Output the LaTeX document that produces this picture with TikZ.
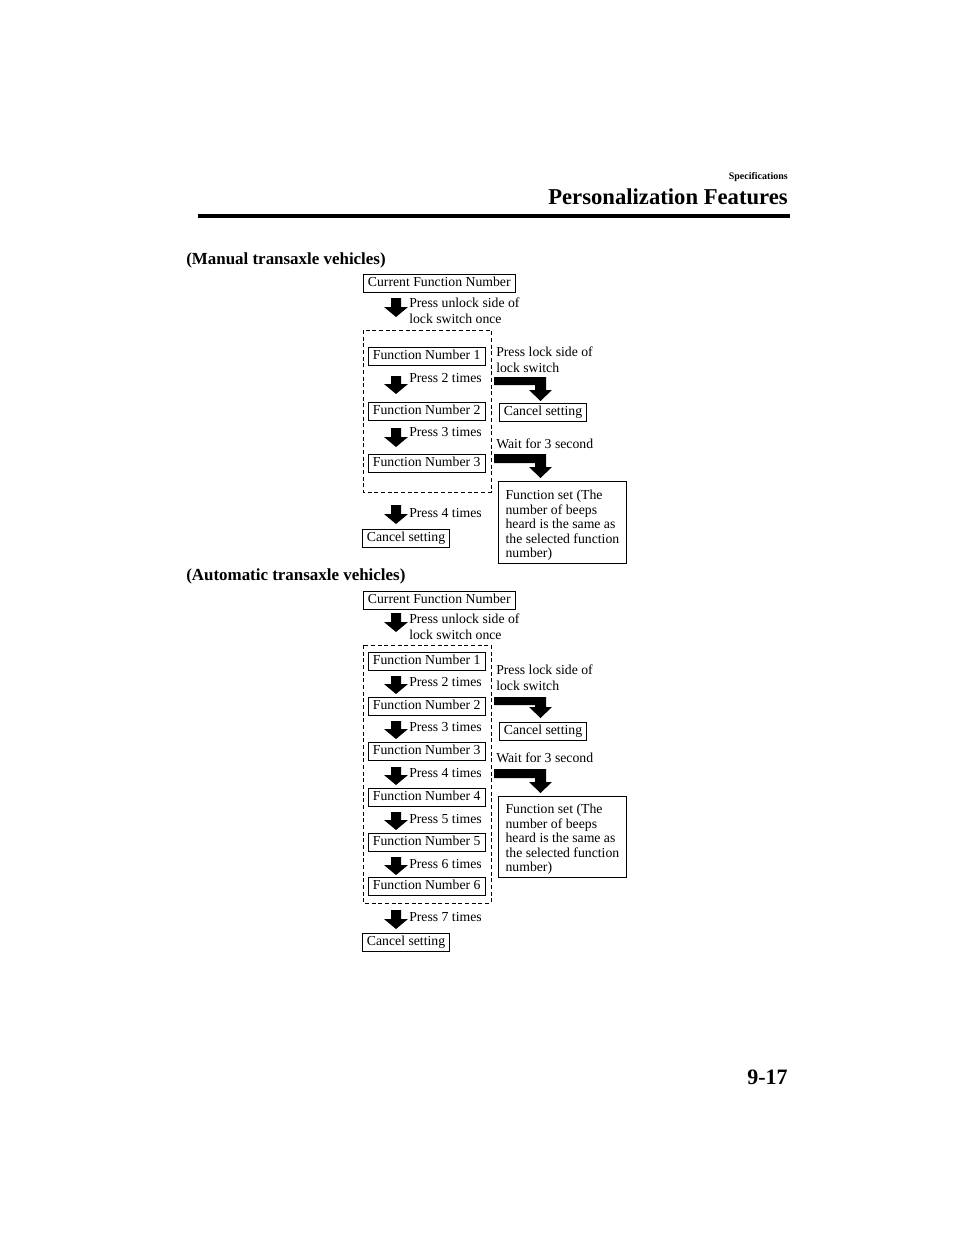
\documentclass[tikz,border=0pt]{standalone}
\usepackage{fontspec}
\setmainfont{Liberation Serif}
\newcommand\dnarrow[3]{\fill ({#1-5},#2) -- ({#1+5},#2) -- ({#1+5},{#3-10}) -- ({#1+12},{#3-10}) -- (#1,#3) -- ({#1-12},{#3-10}) -- ({#1-5},{#3-10}) -- cycle;}
\newcommand\bentarrow[3]{\fill (494,#1) -- (546,#1) -- (546,{#3-11}) -- (552,{#3-11}) -- (540.5,#3) -- (529,{#3-11}) -- (535,{#3-11}) -- (535,#2) -- (494,#2) -- cycle;}
\tikzset{
  txt/.style={font=\fontsize{10.3}{12}\selectfont, inner sep=0pt, align=left},
  box/.style={draw, line width=0.6pt, font=\fontsize{10.3}{12}\selectfont, inner xsep=3.4pt, inner ysep=0pt, text height=7.3pt, text depth=2.2pt, minimum height=13.5pt},
  setbox/.style={draw, line width=0.6pt, font=\fontsize{10.3}{10.9}\selectfont, align=left, minimum width=96pt, inner xsep=4.5pt, inner ysep=0pt},
  dashbox/.style={draw, line width=0.6pt, dash pattern=on 3pt off 2pt},
  sect/.style={font=\bfseries\fontsize{12.7}{14}\selectfont, inner sep=0pt, anchor=west},
}
\begin{document}
\begin{tikzpicture}[x=0.75pt,y=-0.75pt]
\useasboundingbox (0,0) rectangle (960,1245);
% header
\node[font=\bfseries\fontsize{7.5}{9}\selectfont, inner sep=0pt, anchor=east] (spec) at (788,177) {Specifications};
\node[font=\bfseries\fontsize{17}{20}\selectfont, inner sep=0pt, anchor=east] (title) at (788,197) {Personalization Features};
\draw[line width=2.3pt] (198,216) coordinate (r1) -- (790,216) coordinate (r2);
\node[font=\bfseries\fontsize{16.5}{18}\selectfont, inner sep=0pt, anchor=east] (page) at (788,1077) {9-17};

% ===== Manual =====
\node[sect] (mt) at (186,260) {(Manual transaxle vehicles)};
\node[box, anchor=west] (mcur) at (363,283.5) {Current Function Number};
\dnarrow{396}{298}{317}
\node[txt, anchor=west] (mu) at (409,310.5) {Press unlock side of\\lock switch once};
\draw[dashbox] (363,330) rectangle (491,492);
\node[box, anchor=west] (mf1) at (368,356) {Function Number 1};
\dnarrow{396}{376}{394}
\node[txt, anchor=west] (mp2) at (409,378) {Press 2 times};
\node[box, anchor=west] (mf2) at (368,411) {Function Number 2};
\dnarrow{396}{428}{447}
\node[txt, anchor=west] (mp3) at (409,432) {Press 3 times};
\node[box, anchor=west] (mf3) at (368,463) {Function Number 3};
\dnarrow{396}{505}{524}
\node[txt, anchor=west] (mp4) at (409,513) {Press 4 times};
\node[box, anchor=west] (mc) at (362,538.5) {Cancel setting};
\node[txt, anchor=west] (ml) at (496,359.5) {Press lock side of\\lock switch};
\bentarrow{377}{385}{401}
\node[box, anchor=west] (mc2) at (499,412) {Cancel setting};
\node[txt, anchor=west] (mw) at (496,444) {Wait for 3 second};
\bentarrow{454}{463}{478}
\node[setbox, anchor=north west, minimum height=61.5pt] (ms) at (498,481) {\rule{0pt}{11.8pt}Function set (The\\number of beeps\\heard is the same as\\the selected function\\number)};

% ===== Automatic =====
\node[sect] (at) at (186,576) {(Automatic transaxle vehicles)};
\node[box, anchor=west] (acur) at (363,600) {Current Function Number};
\dnarrow{396}{613}{632}
\node[txt, anchor=west] (au) at (409,627) {Press unlock side of\\lock switch once};
\draw[dashbox] (363,645) rectangle (491,903);
\node[box, anchor=west] (af1) at (368,661) {Function Number 1};
\dnarrow{396}{676}{694}
\node[txt, anchor=west] (ap2) at (409,682) {Press 2 times};
\node[box, anchor=west] (af2) at (368,706) {Function Number 2};
\dnarrow{396}{721}{739}
\node[txt, anchor=west] (ap3) at (409,727) {Press 3 times};
\node[box, anchor=west] (af3) at (368,751) {Function Number 3};
\dnarrow{396}{767}{785}
\node[txt, anchor=west] (ap4) at (409,773) {Press 4 times};
\node[box, anchor=west] (af4) at (368,797) {Function Number 4};
\dnarrow{396}{812}{830}
\node[txt, anchor=west] (ap5) at (409,819) {Press 5 times};
\node[box, anchor=west] (af5) at (368,842) {Function Number 5};
\dnarrow{396}{857}{875}
\node[txt, anchor=west] (ap6) at (409,864) {Press 6 times};
\node[box, anchor=west] (af6) at (368,886.5) {Function Number 6};
\dnarrow{396}{910}{929}
\node[txt, anchor=west] (ap7) at (409,917) {Press 7 times};
\node[box, anchor=west] (ac) at (362,942) {Cancel setting};
\node[txt, anchor=west] (al) at (496,678) {Press lock side of\\lock switch};
\bentarrow{697}{705}{718}
\node[box, anchor=west] (ac2) at (499,731) {Cancel setting};
\node[txt, anchor=west] (aw) at (496,758) {Wait for 3 second};
\bentarrow{769}{778}{793}
\node[setbox, anchor=north west, minimum height=60.75pt] (as) at (498,796) {\rule{0pt}{11pt}Function set (The\\number of beeps\\heard is the same as\\the selected function\\number)};
\end{tikzpicture}
\end{document}
